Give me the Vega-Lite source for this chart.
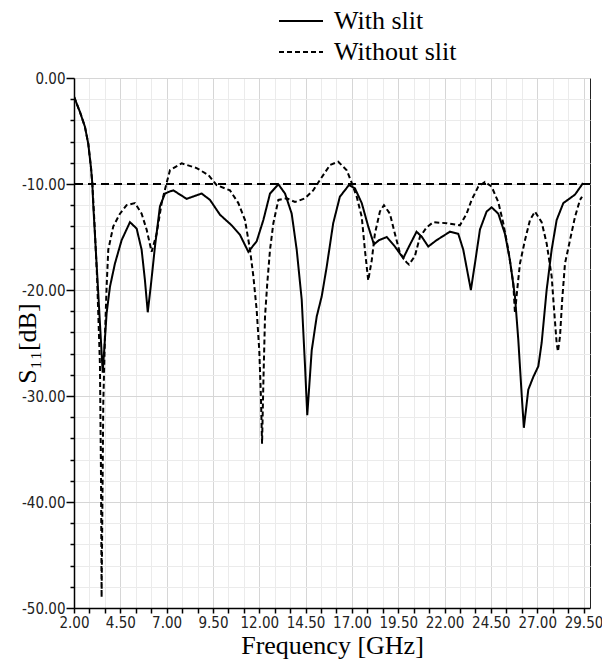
{
  "$schema": "https://vega.github.io/schema/vega-lite/v6.json",
  "width": 516,
  "height": 530,
  "autosize": {"type": "none"},
  "padding": {"left": 74, "top": 78, "right": 12, "bottom": 61},
  "background": "white",
  "config": {
    "view": {"stroke": "#222", "strokeWidth": 1},
    "axis": {
      "labelFont": "Liberation Sans Narrow, DejaVu Sans Condensed, sans-serif",
      "labelFontSize": 15,
      "labelColor": "#222",
      "domainColor": "black",
      "domainWidth": 1.5,
      "tickColor": "black",
      "tickWidth": 1.5,
      "titleFont": "Liberation Serif",
      "titleFontSize": 26,
      "titleFontWeight": "normal",
      "titleColor": "black",
      "labelOverlap": false,
      "labelFlush": false,
      "labelBound": false
    }
  },
  "data": {
    "values": [
      {"f": 2.00, "s11": -1.76, "series": "With slit"},
      {"f": 2.32, "s11": -3.2, "series": "With slit"},
      {"f": 2.59, "s11": -4.6, "series": "With slit"},
      {"f": 2.77, "s11": -6.2, "series": "With slit"},
      {"f": 2.92, "s11": -8.5, "series": "With slit"},
      {"f": 2.99, "s11": -10.0, "series": "With slit"},
      {"f": 3.04, "s11": -12.0, "series": "With slit"},
      {"f": 3.30, "s11": -20.0, "series": "With slit"},
      {"f": 3.55, "s11": -27.8, "series": "With slit"},
      {"f": 3.76, "s11": -22.2, "series": "With slit"},
      {"f": 3.94, "s11": -19.7, "series": "With slit"},
      {"f": 4.21, "s11": -17.5, "series": "With slit"},
      {"f": 4.57, "s11": -15.3, "series": "With slit"},
      {"f": 5.02, "s11": -13.6, "series": "With slit"},
      {"f": 5.38, "s11": -14.2, "series": "With slit"},
      {"f": 5.65, "s11": -16.2, "series": "With slit"},
      {"f": 5.83, "s11": -19.1, "series": "With slit"},
      {"f": 5.98, "s11": -22.1, "series": "With slit"},
      {"f": 6.14, "s11": -19.7, "series": "With slit"},
      {"f": 6.37, "s11": -15.9, "series": "With slit"},
      {"f": 6.64, "s11": -12.1, "series": "With slit"},
      {"f": 6.91, "s11": -10.9, "series": "With slit"},
      {"f": 7.18, "s11": -10.7, "series": "With slit"},
      {"f": 7.36, "s11": -10.6, "series": "With slit"},
      {"f": 8.08, "s11": -11.4, "series": "With slit"},
      {"f": 8.89, "s11": -10.9, "series": "With slit"},
      {"f": 9.34, "s11": -11.5, "series": "With slit"},
      {"f": 9.88, "s11": -12.9, "series": "With slit"},
      {"f": 10.51, "s11": -13.9, "series": "With slit"},
      {"f": 10.96, "s11": -14.8, "series": "With slit"},
      {"f": 11.41, "s11": -16.4, "series": "With slit"},
      {"f": 11.86, "s11": -15.4, "series": "With slit"},
      {"f": 12.22, "s11": -13.4, "series": "With slit"},
      {"f": 12.58, "s11": -10.9, "series": "With slit"},
      {"f": 13.03, "s11": -10.03, "series": "With slit"},
      {"f": 13.39, "s11": -10.9, "series": "With slit"},
      {"f": 13.75, "s11": -12.8, "series": "With slit"},
      {"f": 14.02, "s11": -16.2, "series": "With slit"},
      {"f": 14.29, "s11": -20.9, "series": "With slit"},
      {"f": 14.47, "s11": -27.2, "series": "With slit"},
      {"f": 14.59, "s11": -31.8, "series": "With slit"},
      {"f": 14.83, "s11": -25.7, "series": "With slit"},
      {"f": 15.10, "s11": -22.5, "series": "With slit"},
      {"f": 15.37, "s11": -20.6, "series": "With slit"},
      {"f": 15.64, "s11": -17.8, "series": "With slit"},
      {"f": 15.99, "s11": -13.7, "series": "With slit"},
      {"f": 16.35, "s11": -11.2, "series": "With slit"},
      {"f": 16.84, "s11": -10.1, "series": "With slit"},
      {"f": 17.16, "s11": -10.4, "series": "With slit"},
      {"f": 17.53, "s11": -11.8, "series": "With slit"},
      {"f": 17.88, "s11": -14.0, "series": "With slit"},
      {"f": 18.19, "s11": -15.7, "series": "With slit"},
      {"f": 18.46, "s11": -15.3, "series": "With slit"},
      {"f": 18.88, "s11": -15.0, "series": "With slit"},
      {"f": 19.32, "s11": -15.9, "series": "With slit"},
      {"f": 19.77, "s11": -17.0, "series": "With slit"},
      {"f": 20.08, "s11": -15.9, "series": "With slit"},
      {"f": 20.49, "s11": -14.5, "series": "With slit"},
      {"f": 20.78, "s11": -15.0, "series": "With slit"},
      {"f": 21.12, "s11": -15.9, "series": "With slit"},
      {"f": 21.57, "s11": -15.3, "series": "With slit"},
      {"f": 22.29, "s11": -14.5, "series": "With slit"},
      {"f": 22.74, "s11": -14.7, "series": "With slit"},
      {"f": 23.01, "s11": -16.2, "series": "With slit"},
      {"f": 23.28, "s11": -18.7, "series": "With slit"},
      {"f": 23.42, "s11": -20.0, "series": "With slit"},
      {"f": 23.64, "s11": -17.5, "series": "With slit"},
      {"f": 23.91, "s11": -14.3, "series": "With slit"},
      {"f": 24.27, "s11": -12.6, "series": "With slit"},
      {"f": 24.54, "s11": -12.2, "series": "With slit"},
      {"f": 24.90, "s11": -12.8, "series": "With slit"},
      {"f": 25.26, "s11": -14.7, "series": "With slit"},
      {"f": 25.53, "s11": -17.2, "series": "With slit"},
      {"f": 25.80, "s11": -20.6, "series": "With slit"},
      {"f": 25.98, "s11": -24.7, "series": "With slit"},
      {"f": 26.16, "s11": -29.8, "series": "With slit"},
      {"f": 26.28, "s11": -33.0, "series": "With slit"},
      {"f": 26.52, "s11": -29.4, "series": "With slit"},
      {"f": 26.79, "s11": -28.2, "series": "With slit"},
      {"f": 27.06, "s11": -27.2, "series": "With slit"},
      {"f": 27.24, "s11": -25.0, "series": "With slit"},
      {"f": 27.51, "s11": -20.0, "series": "With slit"},
      {"f": 27.78, "s11": -16.2, "series": "With slit"},
      {"f": 28.05, "s11": -13.4, "series": "With slit"},
      {"f": 28.41, "s11": -11.8, "series": "With slit"},
      {"f": 28.77, "s11": -11.35, "series": "With slit"},
      {"f": 29.04, "s11": -11.0, "series": "With slit"},
      {"f": 29.40, "s11": -10.1, "series": "With slit"},
      {"f": 29.47, "s11": -9.9, "series": "With slit"},
      {"f": 2.00, "s11": -1.76, "series": "Without slit"},
      {"f": 2.32, "s11": -3.2, "series": "Without slit"},
      {"f": 2.59, "s11": -4.6, "series": "Without slit"},
      {"f": 2.77, "s11": -6.2, "series": "Without slit"},
      {"f": 2.92, "s11": -8.5, "series": "Without slit"},
      {"f": 2.99, "s11": -10.0, "series": "Without slit"},
      {"f": 3.10, "s11": -13.5, "series": "Without slit"},
      {"f": 3.25, "s11": -19.0, "series": "Without slit"},
      {"f": 3.40, "s11": -27.0, "series": "Without slit"},
      {"f": 3.46, "s11": -38.0, "series": "Without slit"},
      {"f": 3.49, "s11": -49.0, "series": "Without slit"},
      {"f": 3.58, "s11": -30.7, "series": "Without slit"},
      {"f": 3.67, "s11": -24.4, "series": "Without slit"},
      {"f": 3.76, "s11": -19.7, "series": "Without slit"},
      {"f": 3.85, "s11": -16.2, "series": "Without slit"},
      {"f": 4.12, "s11": -14.0, "series": "Without slit"},
      {"f": 4.48, "s11": -12.8, "series": "Without slit"},
      {"f": 4.84, "s11": -12.0, "series": "Without slit"},
      {"f": 5.29, "s11": -11.8, "series": "Without slit"},
      {"f": 5.65, "s11": -12.8, "series": "Without slit"},
      {"f": 5.92, "s11": -14.3, "series": "Without slit"},
      {"f": 6.19, "s11": -16.4, "series": "Without slit"},
      {"f": 6.46, "s11": -14.7, "series": "Without slit"},
      {"f": 6.73, "s11": -11.8, "series": "Without slit"},
      {"f": 7.00, "s11": -9.9, "series": "Without slit"},
      {"f": 7.18, "s11": -8.7, "series": "Without slit"},
      {"f": 7.81, "s11": -8.05, "series": "Without slit"},
      {"f": 8.62, "s11": -8.5, "series": "Without slit"},
      {"f": 9.25, "s11": -9.15, "series": "Without slit"},
      {"f": 9.70, "s11": -10.1, "series": "Without slit"},
      {"f": 10.42, "s11": -10.6, "series": "Without slit"},
      {"f": 10.87, "s11": -11.8, "series": "Without slit"},
      {"f": 11.23, "s11": -13.4, "series": "Without slit"},
      {"f": 11.50, "s11": -16.2, "series": "Without slit"},
      {"f": 11.68, "s11": -18.7, "series": "Without slit"},
      {"f": 11.86, "s11": -21.9, "series": "Without slit"},
      {"f": 12.00, "s11": -25.7, "series": "Without slit"},
      {"f": 12.09, "s11": -30.1, "series": "Without slit"},
      {"f": 12.15, "s11": -34.5, "series": "Without slit"},
      {"f": 12.22, "s11": -28.8, "series": "Without slit"},
      {"f": 12.31, "s11": -22.5, "series": "Without slit"},
      {"f": 12.43, "s11": -19.4, "series": "Without slit"},
      {"f": 12.58, "s11": -16.2, "series": "Without slit"},
      {"f": 12.76, "s11": -13.7, "series": "Without slit"},
      {"f": 13.03, "s11": -11.5, "series": "Without slit"},
      {"f": 13.48, "s11": -11.35, "series": "Without slit"},
      {"f": 13.93, "s11": -11.7, "series": "Without slit"},
      {"f": 14.47, "s11": -11.35, "series": "Without slit"},
      {"f": 14.91, "s11": -10.6, "series": "Without slit"},
      {"f": 15.28, "s11": -9.6, "series": "Without slit"},
      {"f": 15.82, "s11": -8.2, "series": "Without slit"},
      {"f": 16.26, "s11": -7.9, "series": "Without slit"},
      {"f": 16.72, "s11": -8.7, "series": "Without slit"},
      {"f": 16.99, "s11": -9.9, "series": "Without slit"},
      {"f": 17.26, "s11": -11.2, "series": "Without slit"},
      {"f": 17.53, "s11": -13.1, "series": "Without slit"},
      {"f": 17.70, "s11": -16.2, "series": "Without slit"},
      {"f": 17.88, "s11": -19.1, "series": "Without slit"},
      {"f": 18.07, "s11": -17.2, "series": "Without slit"},
      {"f": 18.24, "s11": -14.7, "series": "Without slit"},
      {"f": 18.51, "s11": -12.6, "series": "Without slit"},
      {"f": 18.73, "s11": -12.0, "series": "Without slit"},
      {"f": 19.05, "s11": -12.8, "series": "Without slit"},
      {"f": 19.32, "s11": -14.7, "series": "Without slit"},
      {"f": 19.59, "s11": -16.5, "series": "Without slit"},
      {"f": 19.95, "s11": -17.4, "series": "Without slit"},
      {"f": 20.08, "s11": -17.6, "series": "Without slit"},
      {"f": 20.40, "s11": -16.8, "series": "Without slit"},
      {"f": 20.67, "s11": -15.0, "series": "Without slit"},
      {"f": 21.03, "s11": -14.1, "series": "Without slit"},
      {"f": 21.39, "s11": -13.6, "series": "Without slit"},
      {"f": 22.11, "s11": -13.7, "series": "Without slit"},
      {"f": 22.83, "s11": -13.9, "series": "Without slit"},
      {"f": 23.19, "s11": -12.8, "series": "Without slit"},
      {"f": 23.46, "s11": -11.5, "series": "Without slit"},
      {"f": 23.82, "s11": -10.25, "series": "Without slit"},
      {"f": 24.18, "s11": -9.8, "series": "Without slit"},
      {"f": 24.54, "s11": -10.25, "series": "Without slit"},
      {"f": 24.90, "s11": -11.7, "series": "Without slit"},
      {"f": 25.17, "s11": -13.7, "series": "Without slit"},
      {"f": 25.44, "s11": -16.2, "series": "Without slit"},
      {"f": 25.71, "s11": -19.4, "series": "Without slit"},
      {"f": 25.80, "s11": -22.2, "series": "Without slit"},
      {"f": 25.92, "s11": -20.0, "series": "Without slit"},
      {"f": 26.07, "s11": -17.5, "series": "Without slit"},
      {"f": 26.34, "s11": -15.3, "series": "Without slit"},
      {"f": 26.61, "s11": -13.4, "series": "Without slit"},
      {"f": 26.88, "s11": -12.6, "series": "Without slit"},
      {"f": 27.24, "s11": -13.6, "series": "Without slit"},
      {"f": 27.51, "s11": -15.6, "series": "Without slit"},
      {"f": 27.78, "s11": -18.7, "series": "Without slit"},
      {"f": 27.90, "s11": -21.6, "series": "Without slit"},
      {"f": 28.05, "s11": -25.0, "series": "Without slit"},
      {"f": 28.12, "s11": -25.8, "series": "Without slit"},
      {"f": 28.23, "s11": -24.4, "series": "Without slit"},
      {"f": 28.35, "s11": -20.9, "series": "Without slit"},
      {"f": 28.50, "s11": -17.5, "series": "Without slit"},
      {"f": 28.77, "s11": -15.3, "series": "Without slit"},
      {"f": 29.04, "s11": -13.1, "series": "Without slit"},
      {"f": 29.31, "s11": -11.5, "series": "Without slit"},
      {"f": 29.42, "s11": -11.2, "series": "Without slit"}
    ]
  },
  "layer": [
    {
      "mark": {"type": "line", "color": "black", "strokeWidth": 2, "clip": true},
      "encoding": {
        "x": {
          "field": "f",
          "type": "quantitative",
          "scale": {"domain": [2, 29.85], "nice": false, "zero": false},
          "axis": {
            "title": "Frequency [GHz]",
            "values": [2, 2.8333, 3.6667, 4.5, 5.3333, 6.1667, 7, 7.8333, 8.6667, 9.5, 10.3333, 11.1667, 12, 12.8333, 13.6667, 14.5, 15.3333, 16.1667, 17, 17.8333, 18.6667, 19.5, 20.3333, 21.1667, 22, 22.8333, 23.6667, 24.5, 25.3333, 26.1667, 27, 27.8333, 28.6667, 29.5],
            "labelExpr": "abs((datum.value-2)/2.5 - round((datum.value-2)/2.5)) < 0.01 ? format(datum.value, '.2f') : ''",
            "labelOverlap": false,
            "grid": true,
            "gridColor": {"condition": {"test": "abs((datum.value-2)/2.5 - round((datum.value-2)/2.5)) < 0.01", "value": "#d6d6d6"}, "value": "#ebebeb"},
            "tickSize": 5,
            "labelPadding": 2,
            "titlePadding": 2
          }
        },
        "y": {
          "field": "s11",
          "type": "quantitative",
          "scale": {"domain": [-50, 0], "nice": false, "zero": false},
          "axis": {
            "title": "S₁₁[dB]",
            "values": [-50, -48, -46, -44, -42, -40, -38, -36, -34, -32, -30, -28, -26, -24, -22, -20, -18, -16, -14, -12, -10, -8, -6, -4, -2, 0],
            "labelExpr": "abs(datum.value/10 - round(datum.value/10)) < 0.01 ? (datum.value < 0 ? '-' : '') + format(abs(datum.value), '.2f') : ''",
            "labelOverlap": false,
            "grid": true,
            "gridColor": {"condition": {"test": "abs(datum.value/10 - round(datum.value/10)) < 0.01", "value": "#d6d6d6"}, "value": "#ebebeb"},
            "tickSize": {"condition": {"test": "abs(datum.value/10 - round(datum.value/10)) < 0.01", "value": 8}, "value": 4},
            "labelPadding": 1,
            "titleX": -47,
            "titleY": 265,
            "titleAngle": 270,
            "titleAlign": "center",
            "titleBaseline": "middle"
          }
        },
        "strokeDash": {
          "field": "series",
          "type": "nominal",
          "scale": {"domain": ["With slit", "Without slit"], "range": [[1, 0], [5, 3]]},
          "legend": {
            "title": null,
            "orient": "none",
            "legendX": 214,
            "legendY": -70,
            "symbolType": "M-2.2,0H2.2",
            "symbolSize": 400,
            "symbolStrokeWidth": 2,
            "symbolStrokeColor": "black",
            "labelFont": "Liberation Serif",
            "labelFontSize": 26,
            "labelColor": "black",
            "labelOffset": 20,
            "rowPadding": 5,
            "labelLimit": 300
          }
        }
      }
    },
    {
      "mark": {"type": "rule", "color": "black", "strokeWidth": 2, "strokeDash": [8, 5]},
      "encoding": {
        "y": {
          "datum": -10,
          "type": "quantitative",
          "axis": {
            "title": "S₁₁[dB]",
            "values": [-50, -48, -46, -44, -42, -40, -38, -36, -34, -32, -30, -28, -26, -24, -22, -20, -18, -16, -14, -12, -10, -8, -6, -4, -2, 0],
            "labelExpr": "abs(datum.value/10 - round(datum.value/10)) < 0.01 ? (datum.value < 0 ? '-' : '') + format(abs(datum.value), '.2f') : ''",
            "labelOverlap": false,
            "grid": true,
            "gridColor": {"condition": {"test": "abs(datum.value/10 - round(datum.value/10)) < 0.01", "value": "#d6d6d6"}, "value": "#ebebeb"},
            "tickSize": {"condition": {"test": "abs(datum.value/10 - round(datum.value/10)) < 0.01", "value": 8}, "value": 4},
            "labelPadding": 1,
            "titleX": -47,
            "titleY": 265,
            "titleAngle": 270,
            "titleAlign": "center",
            "titleBaseline": "middle"
          }
        }
      }
    }
  ]
}
